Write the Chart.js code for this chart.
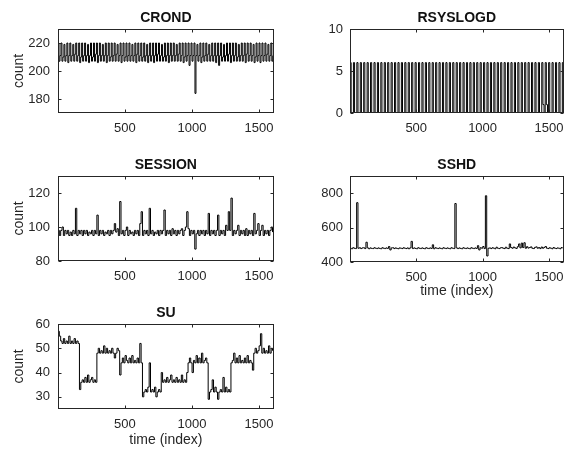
<!DOCTYPE html>
<html>
<head>
<meta charset="utf-8">
<script src="https://cdn.jsdelivr.net/npm/chart.js@4.4.1/dist/chart.umd.min.js"></script>
<style>
  body { margin: 0; background: #fff; }
  #fig { position: relative; width: 572px; height: 450px; }
  canvas { position: absolute; }
</style>
</head>
<body>
<div id="fig">
  <canvas id="crond" width="282" height="147" style="left:0px;top:0px"></canvas>
  <canvas id="rsyslogd" width="262" height="147" style="left:310px;top:0px"></canvas>
  <canvas id="session" width="282" height="147" style="left:0px;top:147px"></canvas>
  <canvas id="sshd" width="262" height="155" style="left:310px;top:147px"></canvas>
  <canvas id="su" width="282" height="155" style="left:0px;top:295px"></canvas>
</div>
<script>
// time index range and tick labels shared by all panels
const xRange = [1, 1610]
const xTicks = [500, 1000, 1500]

// CROND: one value every 7.35 samples
const crondStep = 7.35
const crondTicks = [180, 200, 220]
const crond = [
  220,207,211, 220,207,210, 219,207,211, 220,206,211,
  220,207,211, 219,207,212, 220,207,211, 220,206,210,
  220,207,211, 220,207,211, 219,206,211, 220,207,210,
  220,207,212, 220,206,211, 220,207,211, 219,207,211,
  220,206,211, 220,207,210, 220,207,211, 220,207,212,
  219,207,211, 220,206,211, 220,207,210, 220,207,211,
  220,207,211, 219,207,211, 220,206,212, 220,207,211,
  220,207,210, 220,207,211, 219,206,211, 220,207,211,
  220,206,211, 220,207,212, 220,207,211, 219,207,210,
  220,207,211, 220,206,211, 220,207,211, 220,207,211,
  219,207,212, 220,207,211, 220,206,210, 220,207,211,
  220,204,211, 220,207,211, 220,184,211, 219,207,211,
  220,206,210, 220,207,211, 220,207,212, 219,207,211,
  220,207,211, 220,206,211, 220,204,211, 220,207,210,
  219,207,211, 220,207,212, 220,206,211, 220,207,211,
  220,207,210, 219,207,211, 220,207,211, 220,206,212,
  220,207,211, 220,207,211, 219,206,210, 220,207,211,
  220,206,211, 220,207,211, 220,207,212, 219,207,211,
  220,207,211
]

// RSYSLOGD: one value every 8.6 samples
const rsyslogdStep = 8.6
const rsyslogdTicks = [0, 5, 10]
const rsyslogd = [
  6,0,0, 6,0,0, 6,0,0, 6,0,0,
  6,0,0, 6,0,0, 6,0,0, 6,0,0,
  6,0,0, 6,0,0, 6,0,0, 6,0,0,
  6,0,0, 6,0,0, 6,0,0, 6,0,0,
  6,0,0, 6,0,0, 6,0,0, 6,0,0,
  6,0,0, 6,0,0, 6,0,0, 6,0,0,
  6,0,0, 6,0,0, 6,0,0, 6,0,0,
  6,0,0, 6,0,0, 6,0,0, 6,0,0,
  6,0,0, 6,0,0, 6,0,0, 6,0,0,
  6,0,0, 6,0,0, 6,0,0, 6,0,0,
  6,0,0, 6,0,0, 6,0,0, 6,0,0,
  6,0,0, 6,0,0, 6,0,0, 6,0,0,
  6,0,0, 6,0,0, 6,0,0, 6,0,0,
  6,0,0, 6,0,0, 6,0,0, 6,0,0,
  6,1,0, 6,1,0, 6,0,0, 6,0,0,
  6,0,0, 6,0,0, 6,0,0
]

// SESSION: one value every 10 samples
const sessionStep = 10
const sessionTicks = [80, 100, 120]
const session = [
  98,95,98,100,95,98,96,98,95,97,
  95,98,96,111,95,98,96,98,95,98,
  96,98,95,97,96,98,95,98,96,107,
  95,98,96,98,95,97,96,98,95,98,
  96,98,102,97,99,95,115,96,98,95,
  98,100,95,98,96,97,95,98,96,98,
  95,102,109,95,98,96,98,95,111,96,
  98,95,97,96,98,95,98,96,98,110,
  95,98,96,98,95,99,96,98,95,98,
  96,98,99,95,98,100,109,99,95,98,
  96,98,87,96,98,95,98,96,98,95,
  98,96,108,95,98,96,98,95,98,107,
  95,98,96,98,95,101,98,109,98,117,
  95,98,96,98,101,95,98,96,98,95,
  99,95,98,96,98,95,108,96,98,102,
  95,98,101,95,98,96,98,95,98,100,
  97
]

// SSHD: one value every 10 samples
const sshdStep = 10
const sshdTicks = [400, 600, 800]
const sshd = [
  480,477,483,480,478,745,480,483,478,482,
  483,478,515,482,477,482,479,478,483,480,
  478,482,479,477,483,480,478,482,479,490,
  470,482,483,478,482,479,477,482,480,478,
  483,480,478,482,477,482,520,478,482,479,
  477,483,480,478,482,479,477,483,480,478,
  482,479,500,477,483,480,478,482,479,477,
  483,480,478,482,479,477,483,480,478,740,
  482,478,482,479,477,483,480,478,482,479,
  477,483,480,478,482,479,495,470,483,480,
  490,478,785,435,480,482,478,483,480,477,
  486,480,478,482,484,480,478,486,480,478,
  505,484,480,487,482,479,489,505,482,510,
  484,512,480,489,481,484,488,480,478,485,
  488,480,484,478,487,480,485,490,480,478,
  483,480,477,484,480,478,482,480,477,484,
  480
]

// SU: one value every 10 samples
const suStep = 10
const suTicks = [30, 40, 50, 60]
const su = [
  57,55,53,52,54,52,53,52,55,52,53,52,54,52,53,52,
  33,
  36,37,36,38,36,39,36,37,38,36,37,36,
  48,50,48,49,48,51,48,50,48,49,48,50,48,46,48,50,49,
  39,
  44,46,44,47,45,44,46,44,47,44,45,44,46,44,52,44,
  30,
  32,33,32,34,44,32,33,32,34,30,32,33,32,
  40,
  36,37,36,38,36,37,39,36,37,36,38,36,37,36,39,36,37,36,
  40,
  44,46,44,40,45,44,47,44,46,44,48,44,45,46,44,
  29,
  32,33,37,32,34,32,29,32,33,32,38,32,34,32,33,32,
  44,45,48,44,46,44,47,44,45,44,46,44,47,44,45,44,41,
  48,50,48,49,51,56,48,50,48,49,48,51,48,50,49
]

const ink = '#262626'
Chart.defaults.font.family = '"Liberation Sans", Arial, Helvetica, sans-serif'
Chart.defaults.color = ink

// axes box with inward ticks, like the original figure
const boxPlugin = {
  id: 'box',
  afterDraw(chart) {
    const { ctx, chartArea: a } = chart
    const sx = chart.scales.x, sy = chart.scales.y
    const L = Math.round(a.left) + 0.5, R = Math.round(a.right) - 0.5
    const T = Math.round(a.top) + 0.5, B = Math.round(a.bottom) - 0.5
    ctx.save()
    ctx.strokeStyle = ink
    ctx.lineWidth = 1
    ctx.beginPath()
    sx.ticks.forEach(t => {
      const p = Math.round(sx.getPixelForValue(t.value)) + 0.5
      ctx.moveTo(p, B); ctx.lineTo(p, B - 3)
      ctx.moveTo(p, T); ctx.lineTo(p, T + 3)
    })
    sy.ticks.forEach(t => {
      const p = Math.round(sy.getPixelForValue(t.value)) + 0.5
      ctx.moveTo(L, p); ctx.lineTo(L + 3, p)
      ctx.moveTo(R, p); ctx.lineTo(R - 3, p)
    })
    ctx.stroke()
    ctx.strokeRect(L, T, R - L, B - T)
    ctx.restore()
  }
}

function makePanel(id, name, values, step, yMin, yMax, yTicks, opts) {
  const points = values.map((v, i) => ({ x: xRange[0] + i * step, y: v }))
  return new Chart(document.getElementById(id), {
    type: 'line',
    data: {
      datasets: [{
        data: points,
        borderColor: '#000',
        borderWidth: 1,
        pointRadius: 0,
        stepped: true
      }]
    },
    options: {
      responsive: false,
      animation: false,
      events: [],
      layout: { padding: { right: opts.padRight, left: 0, top: 0, bottom: 0 } },
      plugins: { legend: { display: false }, tooltip: { enabled: false } },
      scales: {
        x: {
          type: 'linear',
          position: 'bottom',
          min: xRange[0],
          max: xRange[1],
          afterBuildTicks: s => { s.ticks = xTicks.map(v => ({ value: v })) },
          afterFit: s => { s.height = opts.xHeight },
          grid: { display: false, drawTicks: false },
          border: { display: false },
          ticks: { font: { size: 13 }, padding: 8, maxRotation: 0, callback: v => String(v) },
          title: {
            display: opts.xLabel,
            text: 'time (index)',
            font: { size: 14 },
            padding: { top: 0, bottom: opts.xTitlePad }
          }
        },
        top: {
          type: 'linear',
          position: 'top',
          min: 0,
          max: 1,
          afterFit: s => { s.height = 29 },
          grid: { display: false, drawTicks: false },
          border: { display: false },
          ticks: { display: false },
          title: {
            display: true,
            text: name,
            font: { size: 14, weight: 'bold' },
            color: '#111',
            padding: { top: 9.6, bottom: 0 }
          }
        },
        y: {
          type: 'linear',
          position: 'left',
          min: yMin,
          max: yMax,
          afterBuildTicks: s => { s.ticks = yTicks.map(v => ({ value: v })) },
          afterFit: s => { s.width = opts.yWidth },
          grid: { display: false, drawTicks: false },
          border: { display: false },
          ticks: { font: { size: 13 }, padding: opts.yPad, callback: v => String(v) },
          title: {
            display: opts.yLabel,
            text: 'count',
            font: { size: 14 },
            padding: { top: 11, bottom: 0 }
          }
        }
      }
    },
    plugins: [boxPlugin]
  })
}

const leftCol = { padRight: 3, yWidth: 58, yPad: 8, yLabel: true }
const rightCol = { padRight: 2, yWidth: 40, yPad: 7, yLabel: false }

makePanel('crond', 'CROND', crond, crondStep, 170, 230, crondTicks,
  Object.assign({}, leftCol, { xHeight: 34, xLabel: false, xTitlePad: 0 }))
makePanel('rsyslogd', 'RSYSLOGD', rsyslogd, rsyslogdStep, 0, 10, rsyslogdTicks,
  Object.assign({}, rightCol, { xHeight: 34, xLabel: false, xTitlePad: 0 }))
makePanel('session', 'SESSION', session, sessionStep, 80, 130, sessionTicks,
  Object.assign({}, leftCol, { xHeight: 33, xLabel: false, xTitlePad: 0 }))
makePanel('sshd', 'SSHD', sshd, sshdStep, 400, 900, sshdTicks,
  Object.assign({}, rightCol, { xHeight: 40, xLabel: true, xTitlePad: 2 }))
makePanel('su', 'SU', su, suStep, 25, 60, suTicks,
  Object.assign({}, leftCol, { xHeight: 41, xLabel: true, xTitlePad: 1.6 }))
</script>
</body>
</html>
